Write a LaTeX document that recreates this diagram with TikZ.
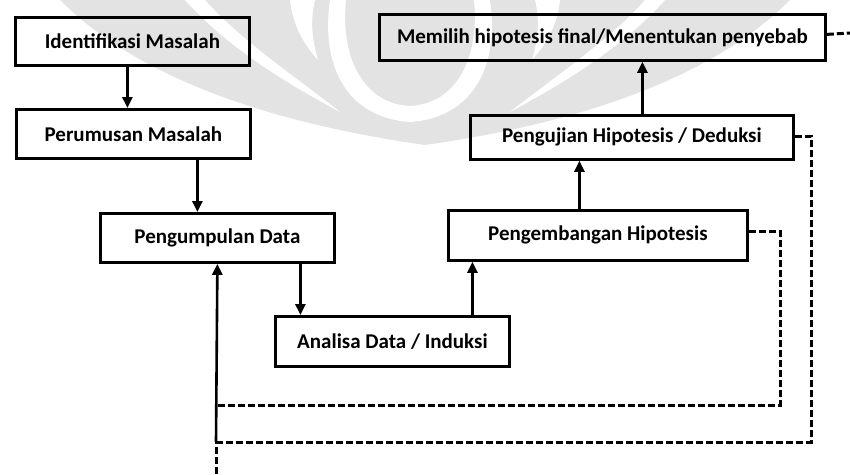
\documentclass[tikz,border=0pt]{standalone}
\usepackage{fontspec}
\setmainfont{Carlito}
\usetikzlibrary{arrows.meta}
\begin{document}
\begin{tikzpicture}[x=1pt,y=-1pt,
  stepbox/.style={draw, line width=2.8pt, inner sep=0pt, anchor=north west,
    font=\bfseries\fontsize{21}{24}\selectfont},
  flow/.style={line width=2.6pt, -{Triangle[length=11pt,width=10pt]}},
  loop/.style={line width=3pt, dash pattern=on 7pt off 3pt},
  emblem/.style={fill=black!11, draw=none},
]
\useasboundingbox (0,0) rectangle (850,474);
\fill[white] (0,0) rectangle (850,474);

% faint emblem in the background: two curved wings round a disc
\fill[emblem] (60,0) -- (790,0)
  .. controls (720,70) and (600,120) .. (425,145)
  .. controls (250,120) and (130,70) .. (60,0) -- cycle;
\fill[white] (185,0) .. controls (230,50) and (290,85) .. (340,112)
  .. controls (300,80) and (240,40) .. (205,0) -- cycle;
\fill[white] (665,0) .. controls (620,50) and (560,85) .. (510,112)
  .. controls (550,80) and (610,40) .. (645,0) -- cycle;
\fill[white] (330,0) .. controls (320,70) and (350,118) .. (410,122)
  .. controls (470,118) and (500,70) .. (490,0)
  -- (474,0) .. controls (480,60) and (455,104) .. (410,106)
  .. controls (365,104) and (340,60) .. (346,0) -- cycle;
\fill[white] (290,0) -- (315,0) .. controls (310,20) and (312,40) .. (318,60)
  .. controls (300,40) and (292,20) .. (290,0) -- cycle;
\fill[white] (560,0) -- (535,0) .. controls (540,20) and (538,40) .. (532,60)
  .. controls (550,40) and (558,20) .. (560,0) -- cycle;

\node[stepbox, minimum width=234pt, minimum height=48pt] (ident) at (14,16) {Identifikasi Masalah};
\node[stepbox, minimum width=234pt, minimum height=49pt] (rumus) at (15,108) {Perumusan Masalah};
\node[stepbox, minimum width=234pt, minimum height=49pt] (kumpul) at (99,212) {Pengumpulan Data};
\node[stepbox, minimum width=234pt, minimum height=50pt] (analisa) at (274,315) {Analisa Data / Induksi};
\node[stepbox, minimum width=299pt, minimum height=50pt] (kembang) at (447,209) {Pengembangan Hipotesis};
\node[stepbox, minimum width=323pt, minimum height=44pt] (uji) at (469,114) {Pengujian Hipotesis / Deduksi};
\node[stepbox, minimum width=446pt, minimum height=46pt] (pilih) at (378,13) {Memilih hipotesis final/Menentukan penyebab};

% main flow
\draw[flow] ([xshift=-5pt]ident.south) -- ([xshift=-5pt]ident.south |- rumus.north);
\draw[flow] ([xshift=64pt]rumus.south) -- ([xshift=64pt]rumus.south |- kumpul.north);
\draw[flow] ([xshift=83pt]kumpul.south) -- ([xshift=83pt]kumpul.south |- analisa.north);
\draw[flow] ([xshift=80pt]analisa.north) -- ([xshift=80pt]analisa.north |- kembang.south);
\draw[flow] ([xshift=-18.5pt]kembang.north) -- ([xshift=-18.5pt]kembang.north |- uji.south);
\draw[flow] ([xshift=10.5pt]uji.north) -- ([xshift=10.5pt]uji.north |- pilih.south);

% feedback loops
\coordinate (j1) at (216,405);
\coordinate (j2) at (216,442);
\coordinate (foot) at (216,474);
\coordinate (r1) at (780,405);
\coordinate (r2) at (811,442);
\coordinate (edge) at (850,33);

\draw[loop] ([yshift=4pt]kembang.east) -| (r1) -- (j1);
\draw[loop] ([yshift=1pt]uji.east) -| (r2) -- (j2);
\draw[loop] ([yshift=3pt]pilih.east) -- (edge);
\draw[loop] (foot) -- (j2);
\draw[flow] (j2) -- (kumpul.south);
\end{tikzpicture}
\end{document}
